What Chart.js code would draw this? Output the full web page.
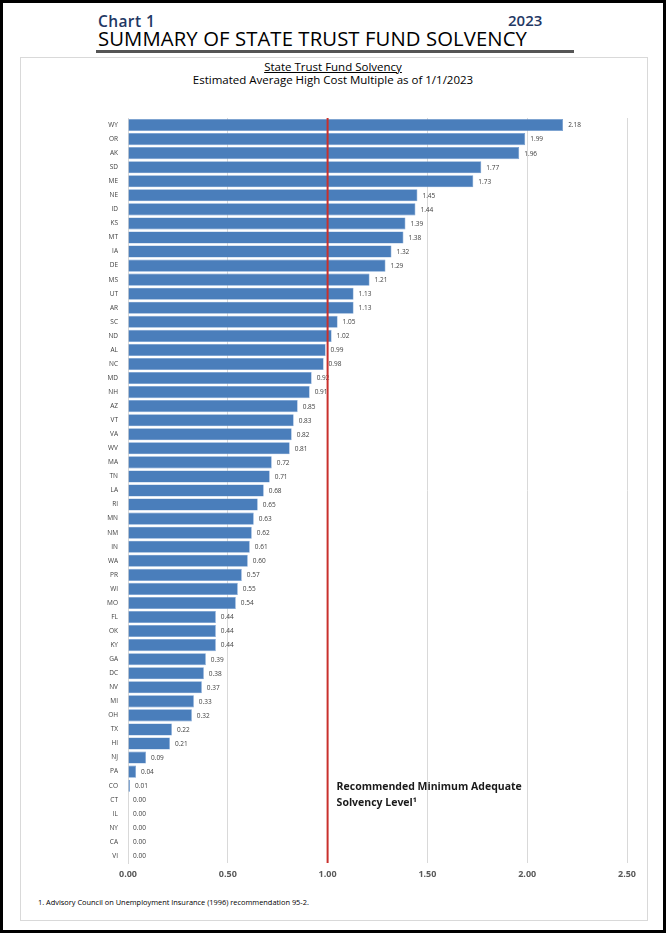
<!DOCTYPE html>
<html>
<head>
<meta charset="utf-8">
<script src="https://cdn.jsdelivr.net/npm/chart.js@4.4.0/dist/chart.umd.min.js"></script>
<style>
  html, body { margin: 0; padding: 0; background: #fff; }
  #page {
    position: relative; width: 666px; height: 933px; box-sizing: border-box;
    border: 3px solid #000; font-family: "Open Sans", sans-serif; overflow: hidden;
  }
  #chartNo { position: absolute; left: 95px; top: 7px; font-size: 15.5px; font-weight: 600; color: #1f3864; letter-spacing: 0.4px; }
  #year { position: absolute; left: 505px; top: 7px; font-size: 15px; font-weight: 600; color: #1f3864; }
  #mainTitle {
    position: absolute; left: 93px; top: 24px; width: 476px; font-size: 20.3px; color: #000;
    border-bottom: 3px solid #555; line-height: 23px; padding-left: 2px; letter-spacing: 0.1px;
  }
  #panel {
    position: absolute; left: 17px; top: 54px; width: 628px; height: 864px;
    border: 1px solid #d9d9d9; box-sizing: border-box;
  }
  #sub1 { position: absolute; left: 0; width: 100%; top: 56px; text-align: center; font-size: 11.5px; color: #000; }
  #sub1 span { text-decoration: underline; }
  #sub2 { position: absolute; left: 0; width: 100%; top: 69px; text-align: center; font-size: 11.5px; color: #000; }
  #wrap { position: absolute; left: 14px; top: 95px; width: 630px; height: 793px; }
  #note { position: absolute; left: 35px; top: 894px; font-size: 7.4px; color: #000; }
</style>
</head>
<body>
<div id="page">
  <div id="chartNo">Chart 1</div>
  <div id="year">2023</div>
  <div id="mainTitle">SUMMARY OF STATE TRUST FUND SOLVENCY</div>
  <div id="panel"></div>
  <div id="sub1"><span>State Trust Fund Solvency</span></div>
  <div id="sub2">Estimated Average High Cost Multiple as of 1/1/2023</div>
  <div id="wrap"><canvas id="chart"></canvas></div>
  <div id="note">1. Advisory Council on Unemployment Insurance (1996) recommendation 95-2.</div>
</div>
<script>
// -------- Datos --------
const states = ["WY","OR","AK","SD","ME","NE","ID","KS","MT","IA","DE","MS","UT","AR","SC","ND","AL","NC",
  "MD","NH","AZ","VT","VA","WV","MA","TN","LA","RI","MN","NM","IN","WA","PR","WI","MO","FL","OK","KY",
  "GA","DC","NV","MI","OH","TX","HI","NJ","PA","CO","CT","IL","NY","CA","VI"];
const multiples = [2.18,1.99,1.96,1.77,1.73,1.45,1.44,1.39,1.38,1.32,1.29,1.21,1.13,1.13,1.05,1.02,0.99,0.98,
  0.92,0.91,0.85,0.83,0.82,0.81,0.72,0.71,0.68,0.65,0.63,0.62,0.61,0.60,0.57,0.55,0.54,0.44,0.44,0.44,
  0.39,0.38,0.37,0.33,0.32,0.22,0.21,0.09,0.04,0.01,0.00,0.00,0.00,0.00,0.00];
const xTicks = [0, 0.5, 1, 1.5, 2, 2.5];
const minLevel = 1.0;
const minLevelLabel = ["Recommended Minimum Adequate", "Solvency Level\u00B9"];

// -------- Plugins --------
const valueLabels = {
  id: "valueLabels",
  afterDatasetsDraw(chart) {
    const ctx = chart.ctx;
    const meta = chart.getDatasetMeta(0);
    ctx.save();
    ctx.font = "6.5px 'Open Sans', sans-serif";
    ctx.fillStyle = "#404040";
    ctx.textBaseline = "middle";
    meta.data.forEach((bar, i) => {
      ctx.fillText(multiples[i].toFixed(2), bar.x + 5, bar.y + 0.5);
    });
    ctx.restore();
  }
};

const minLine = {
  id: "minLine",
  afterDatasetsDraw(chart) {
    const { ctx, chartArea } = chart;
    const x = chart.scales.x.getPixelForValue(minLevel);
    ctx.save();
    ctx.strokeStyle = "#c9302c";
    ctx.lineWidth = 2;
    ctx.beginPath();
    ctx.moveTo(x, chartArea.top);
    ctx.lineTo(x, chartArea.bottom);
    ctx.stroke();
    ctx.font = "bold 10.5px 'Open Sans', sans-serif";
    ctx.fillStyle = "#1a1a1a";
    ctx.textBaseline = "middle";
    ctx.fillText(minLevelLabel[0], x + 9, chartArea.bottom - 76);
    ctx.fillText(minLevelLabel[1], x + 9, chartArea.bottom - 60);
    ctx.restore();
  }
};

// -------- Grafico --------
new Chart(document.getElementById("chart"), {
  type: "bar",
  data: {
    labels: states,
    datasets: [{
      data: multiples,
      backgroundColor: "#4a7ebb",
      borderColor: "#6f9ad0",
      borderWidth: 0.6,
      barPercentage: 0.86,
      categoryPercentage: 1
    }]
  },
  options: {
    indexAxis: "y",
    responsive: true,
    maintainAspectRatio: false,
    animation: false,
    layout: { padding: { top: 20, right: 20, bottom: 0, left: 0 } },
    plugins: { legend: { display: false }, tooltip: { enabled: false } },
    scales: {
      x: {
        min: 0, max: 2.5,
        afterBuildTicks: s => { s.ticks = xTicks.map(v => ({ value: v })); },
        afterFit: s => { s.height = 28; },
        grid: { color: "#d9d9d9", lineWidth: 1, drawTicks: false },
        border: { display: false },
        ticks: {
          padding: 6,
          color: "#595959",
          font: { family: "'Open Sans', sans-serif", size: 9, weight: "bold" },
          callback: v => v.toFixed(2)
        }
      },
      y: {
        afterFit: s => { s.width = 111; },
        grid: { display: false, drawTicks: false },
        border: { display: true, color: "#d9d9d9", width: 1 },
        ticks: {
          padding: 10,
          color: "#404040",
          autoSkip: false,
          font: { family: "'Open Sans', sans-serif", size: 6.5 }
        }
      }
    }
  },
  plugins: [valueLabels, minLine]
});
</script>
</body>
</html>
